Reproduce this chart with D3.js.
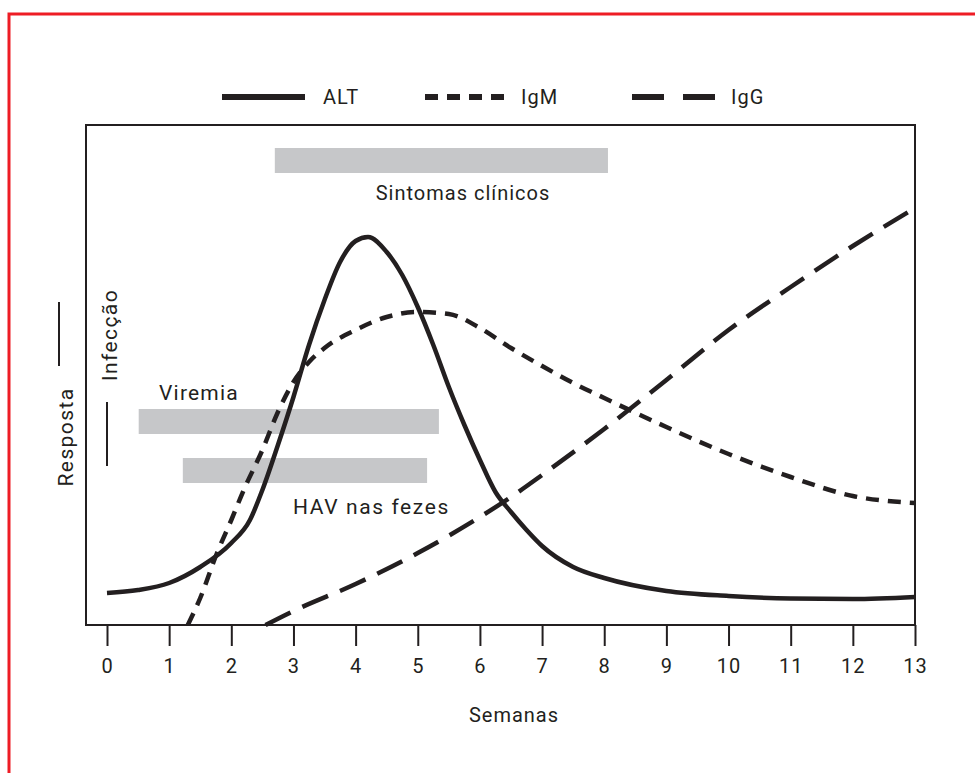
<!DOCTYPE html>
<html>
<head>
<meta charset="utf-8">
<script src="https://cdn.jsdelivr.net/npm/d3@7"></script>
<style>
  body { margin: 0; background: #fff; }
  svg text { font-family: Roboto, "Open Sans", sans-serif; fill: #231f20; letter-spacing: 1px; }
</style>
</head>
<body>
<script>
// values (response in arbitrary units 0..100)
var altWeeks = [0, 0.5, 1, 1.5, 2, 2.3, 2.5, 2.75, 3, 3.25, 3.5, 3.75, 4, 4.2, 4.5, 4.75, 5, 5.25, 5.5, 5.75, 6, 6.25, 6.5, 6.75, 7, 7.5, 8, 9, 10, 11, 12, 13];
var altValues = [6.4, 7.0, 8.4, 11.6, 16.4, 21, 27, 36, 45.6, 56, 65, 72.6, 76.8, 77.6, 74.6, 70, 63.6, 56, 47.6, 40, 33, 26.6, 22.6, 19, 15.8, 11.6, 9.4, 6.8, 5.8, 5.3, 5.2, 5.6];

var igmWeeks = [1.3, 1.5, 1.77, 2, 2.2, 2.5, 2.75, 3, 3.25, 3.5, 4, 4.5, 5, 5.5, 6, 6.5, 7, 7.5, 8, 9, 10, 11, 12, 13];
var igmValues = [0, 5.4, 14.4, 21, 27, 35, 42.6, 48.6, 52.6, 55.4, 59, 61.6, 62.6, 62.2, 59.4, 55.4, 51.8, 48.4, 45.4, 39.6, 34.2, 29.6, 25.8, 24.4];

var iggWeeks = [2.55, 3, 4, 5, 6, 6.5, 7, 8, 9, 10, 11, 12, 13];
var iggValues = [0, 2.8, 8.2, 14.4, 21.6, 25.6, 30, 39.2, 49, 59, 67.6, 75.8, 83.4];

// gray period bars (weeks)
var barLabels = ["Sintomas clínicos", "Viremia", "HAV nas fezes"];
var barStart = [2.7, 0.51, 1.22];
var barEnd = [8.06, 5.34, 5.15];

var tickWeeks = [0, 1, 2, 3, 4, 5, 6, 7, 8, 9, 10, 11, 12, 13];
var legendNames = ["ALT", "IgM", "IgG"];

var width = 975, height = 773;

var svg = d3.select('body').append('svg')
  .attr('width', width)
  .attr('height', height);

// red outer border
svg.append('rect')
  .attr('x', 9).attr('y', 14)
  .attr('width', 1000).attr('height', 800)
  .attr('fill', 'none')
  .attr('stroke', '#ee1c25')
  .attr('stroke-width', 3);

var x = d3.scaleLinear().domain([0, 13]).range([107, 915]);
var y = d3.scaleLinear().domain([0, 100]).range([625, 125]);

// bars first so curves draw over them
var barTop = [95.4, 43.2, 33.4];
var barH = 5;
svg.selectAll('rect.bar')
  .data(barStart)
  .enter()
  .append('rect')
  .classed('bar', true)
  .attr('x', function(d){ return x(d); })
  .attr('width', function(d, i){ return x(barEnd[i]) - x(d); })
  .attr('y', function(d, i){ return y(barTop[i]); })
  .attr('height', function(d, i){ return y(barTop[i] - barH) - y(barTop[i]); })
  .attr('fill', '#c6c7c9');

// bar labels
var labelPos = [
  {x: 463, y: 200, anchor: 'middle', size: 20, sp: 1},
  {x: 159, y: 400, anchor: 'start', size: 21, sp: 1.2},
  {x: 293, y: 514, anchor: 'start', size: 21, sp: 1.6}
];
svg.selectAll('text.barlabel')
  .data(barLabels)
  .enter()
  .append('text')
  .classed('barlabel', true)
  .attr('x', function(d, i){ return labelPos[i].x; })
  .attr('y', function(d, i){ return labelPos[i].y; })
  .attr('text-anchor', function(d, i){ return labelPos[i].anchor; })
  .style('font-size', function(d, i){ return labelPos[i].size + 'px'; })
  .style('letter-spacing', function(d, i){ return labelPos[i].sp + 'px'; })
  .text(function(d){ return d; });

// curves
var line = d3.line()
  .x(function(d){ return x(d[0]); })
  .y(function(d){ return y(d[1]); })
  .curve(d3.curveMonotoneX);

var series = [
  {w: altWeeks, v: altValues, dash: null},
  {w: igmWeeks, v: igmValues, dash: '13,9'},
  {w: iggWeeks, v: iggValues, dash: '28,13'}
];

svg.selectAll('path.curve')
  .data(series)
  .enter()
  .append('path')
  .classed('curve', true)
  .attr('d', function(s){ return line(d3.zip(s.w, s.v)); })
  .attr('fill', 'none')
  .attr('stroke', '#231f20')
  .attr('stroke-width', 4.5)
  .attr('stroke-dasharray', function(s){ return s.dash; });

// frame
svg.append('rect')
  .attr('x', 86).attr('y', 125)
  .attr('width', 915 - 86).attr('height', 500)
  .attr('fill', 'none')
  .attr('stroke', '#231f20')
  .attr('stroke-width', 2);

// x axis
var xAxis = d3.axisBottom(x)
  .tickValues(tickWeeks)
  .tickSize(21)
  .tickPadding(13)
  .tickFormat(d3.format('d'));

var gx = svg.append('g')
  .attr('transform', 'translate(0,625)')
  .call(xAxis);
gx.select('.domain').remove();
gx.selectAll('.tick line').attr('stroke', '#231f20').attr('stroke-width', 2);
gx.selectAll('.tick text')
  .style('font-size', '20px')
  .attr('fill', '#231f20')
  .style('font-family', 'Roboto, "Open Sans", sans-serif');

svg.append('text')
  .attr('x', 514).attr('y', 722)
  .attr('text-anchor', 'middle')
  .style('font-size', '20px')
  .text('Semanas');

// y side labels
svg.append('text')
  .attr('transform', 'translate(73,437) rotate(-90)')
  .attr('text-anchor', 'middle')
  .style('font-size', '21px')
  .style('letter-spacing', '1.4px')
  .text('Resposta');
svg.append('line')
  .attr('x1', 59).attr('x2', 59)
  .attr('y1', 302).attr('y2', 366)
  .attr('stroke', '#231f20').attr('stroke-width', 2);

svg.append('text')
  .attr('transform', 'translate(117,335) rotate(-90)')
  .attr('text-anchor', 'middle')
  .style('font-size', '21px')
  .style('letter-spacing', '1.4px')
  .text('Infecção');
svg.append('line')
  .attr('x1', x(0)).attr('x2', x(0))
  .attr('y1', 402).attr('y2', 466)
  .attr('stroke', '#231f20').attr('stroke-width', 2);

// legend
var legendX = [222, 425, 632];
var legendTextX = [323, 521, 731];
var legendDash = [null, '13,9', '32,19'];
var legendLen = [83, 80, 83];

var lg = svg.selectAll('g.legend')
  .data(legendNames)
  .enter()
  .append('g')
  .classed('legend', true);

lg.append('line')
  .attr('x1', function(d, i){ return legendX[i]; })
  .attr('x2', function(d, i){ return legendX[i] + legendLen[i]; })
  .attr('y1', 97).attr('y2', 97)
  .attr('stroke', '#231f20')
  .attr('stroke-width', 6)
  .attr('stroke-dasharray', function(d, i){ return legendDash[i]; });

lg.append('text')
  .attr('x', function(d, i){ return legendTextX[i]; })
  .attr('y', 104)
  .style('font-size', '20px')
  .text(function(d){ return d; });
</script>
</body>
</html>
